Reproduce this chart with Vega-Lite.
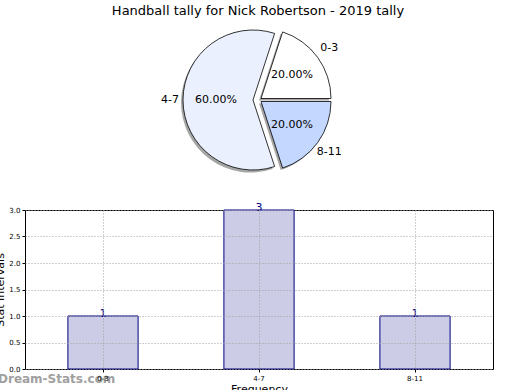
{
  "$schema": "https://vega.github.io/schema/vega-lite/v6.json",
  "padding": {"left": -6, "top": 5, "right": 0, "bottom": 0},
  "background": "white",
  "config": {"font": "DejaVu Sans", "concat": {"spacing": 23}},
  "datasets": {
    "tally": [
      {"interval": "0-3", "count": 1, "share": 0.2},
      {"interval": "4-7", "count": 3, "share": 0.6},
      {"interval": "8-11", "count": 1, "share": 0.2}
    ]
  },
  "vconcat": [
    {
      "width": 466,
      "height": 156,
      "view": {"stroke": null},
      "title": {"text": "Handball tally for Nick Robertson - 2019 tally", "fontSize": 13, "fontWeight": "normal", "anchor": "middle", "offset": 4},
      "data": {"name": "tally"},
      "transform": [
        {"stack": "share", "groupby": [], "as": ["s0", "s1"], "sort": [{"field": "interval", "order": "ascending"}]}
      ],
      "encoding": {
        "theta": {"field": "s0", "type": "quantitative", "scale": {"domain": [0, 1], "range": [1.5708, -4.71239]}},
        "theta2": {"field": "s1"}
      },
      "layer": [
        {"transform": [{"filter": "datum.interval === '4-7'"}], "mark": {"type": "arc", "radius": 70, "xOffset": -7, "yOffset": 2.5, "fill": "#4d4d4d", "opacity": 0.5}},
        {"transform": [{"filter": "datum.interval === '0-3'"}], "mark": {"type": "arc", "radius": 70, "xOffset": 1, "yOffset": 0.5, "fill": "#4d4d4d", "opacity": 0.5}},
        {"transform": [{"filter": "datum.interval === '8-11'"}], "mark": {"type": "arc", "radius": 70, "xOffset": 1, "yOffset": 3.5, "fill": "#4d4d4d", "opacity": 0.5}},
        {"transform": [{"filter": "datum.interval === '4-7'"}], "mark": {"type": "arc", "radius": 70, "xOffset": -5, "yOffset": 0, "fill": "#eaf0fe", "stroke": "black", "strokeWidth": 0.8}},
        {"transform": [{"filter": "datum.interval === '0-3'"}], "mark": {"type": "arc", "radius": 70, "xOffset": 3, "yOffset": -1.5, "fill": "#ffffff", "stroke": "black", "strokeWidth": 0.8}},
        {"transform": [{"filter": "datum.interval === '8-11'"}], "mark": {"type": "arc", "radius": 70, "xOffset": 3, "yOffset": 1.5, "fill": "#c4d7fe", "stroke": "black", "strokeWidth": 0.8}},
        {
          "mark": {"type": "text", "radius": 42, "fontSize": 11, "color": "black"},
          "encoding": {
            "theta": {"field": "share", "type": "quantitative", "stack": true},
            "theta2": null,
            "order": {"field": "interval", "type": "ordinal", "sort": "ascending"},
            "text": {"field": "share", "type": "quantitative", "format": ".2%"}
          }
        },
        {
          "mark": {"type": "text", "radius": 88, "fontSize": 11, "color": "black"},
          "encoding": {
            "theta": {"field": "share", "type": "quantitative", "stack": true},
            "theta2": null,
            "order": {"field": "interval", "type": "ordinal", "sort": "ascending"},
            "text": {"field": "interval", "type": "nominal"}
          }
        }
      ]
    },
    {
      "width": 468,
      "height": 159,
      "view": {"stroke": "black", "strokeWidth": 1, "fill": "white"},
      "title": {"text": "Dream-Stats.com", "orient": "bottom", "anchor": "start", "frame": "group", "offset": -20, "dx": -27, "fontSize": 12, "fontWeight": "bold", "color": "#a0a0a0"},
      "data": {"name": "tally"},
      "encoding": {
        "x": {
          "field": "interval", "type": "nominal", "sort": ["0-3", "4-7", "8-11"],
          "scale": {"paddingInner": 0, "paddingOuter": 0},
          "axis": {"title": "Frequency", "titleFontSize": 11, "titleFontWeight": "normal", "titlePadding": 2, "labelAngle": 0, "labelFontSize": 7, "labelColor": "black", "labelPadding": 2, "tickSize": 3, "tickColor": "black", "domain": false, "grid": true, "gridDash": [1, 2], "gridColor": "#a0a0a0", "bandPosition": 0.5, "zindex": 1}
        },
        "y": {
          "field": "count", "type": "quantitative",
          "scale": {"domain": [0, 3]},
          "axis": {"title": "Stat Intervals", "titleFontSize": 11, "titleFontWeight": "normal", "titlePadding": 3, "values": [0, 0.5, 1, 1.5, 2, 2.5, 3], "format": ".1f", "labelFontSize": 7, "labelColor": "black", "labelPadding": 2, "tickSize": 3, "tickColor": "black", "domain": false, "grid": true, "gridDash": [1, 2], "gridColor": "#a0a0a0", "zindex": 1}
        }
      },
      "layer": [
        {"mark": {"type": "bar", "width": {"band": 0.45}, "fill": "#ccccE6", "stroke": "#000080", "strokeWidth": 1}},
        {"mark": {"type": "text", "baseline": "alphabetic", "dy": 1, "color": "#000080", "fontSize": 11}, "encoding": {"text": {"field": "count", "type": "quantitative"}}}
      ]
    }
  ]
}
